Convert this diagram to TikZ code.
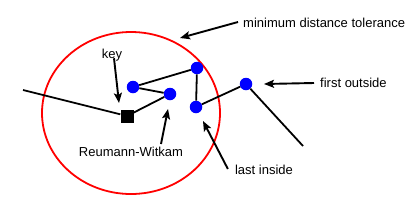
\documentclass[tikz,border=0pt]{standalone}
\usepackage{fontspec}
\setmainfont{Liberation Sans}
\usetikzlibrary{arrows.meta}
\begin{document}
\begin{tikzpicture}[x=1pt,y=-1pt,
    vertex/.style={circle,fill=blue,inner sep=0pt,minimum size=12.5pt},
    keybox/.style={rectangle,fill=black,inner sep=0pt,minimum size=13pt},
    lbl/.style={font=\fontsize{13}{15}\selectfont,inner sep=1pt},
    arr/.style={line width=1.9pt,-{Stealth[length=10pt,width=8pt,inset=2pt]}},
    pline/.style={line width=1.8pt}]
    \useasboundingbox (0,0) rectangle (411,207);
    \draw[red,line width=1.8pt] (131,113) ellipse (89 and 81);
    % polyline
    \coordinate (start) at (23,90);
    \coordinate (stop) at (303,146);
    \node[keybox] (key) at (127,116) {};
    \node[vertex] (a) at (133,87) {};
    \node[vertex] (b) at (170,94) {};
    \node[vertex] (c) at (197,68) {};
    \node[vertex] (d) at (196,107) {};
    \node[vertex] (e) at (246,84) {};
    \draw[pline] (start) -- (key) -- (b) -- (a) -- (c) -- (d) -- (e) -- (stop);
    % labels
    \node[lbl,anchor=west] (tol) at (242,23) {minimum distance tolerance};
    \node[lbl] (keylbl) at (112,55) {key};
    \node[lbl] (rw) at (131,152) {Reumann-Witkam};
    \node[lbl] (li) at (264,170) {last inside};
    \node[lbl,anchor=west] (fo) at (319,83) {first outside};
    \coordinate (tolhead) at (180,38);
    \coordinate (keyhead) at (119,103);
    \coordinate (rwhead) at (168,109);
    \coordinate (lihead) at (203,121);
    \coordinate (fohead) at (264,84);
    \draw[arr] ([xshift=-4pt,yshift=1pt]tol.west) -- (tolhead);
    \draw[arr] ([xshift=2pt,yshift=4pt]keylbl.south) -- (keyhead);
    \draw[arr] ([xshift=30pt,yshift=2pt]rw.north) -- (rwhead);
    \draw[arr] ([xshift=-6pt,yshift=-5pt]li.north west) -- (lihead);
    \draw[arr] ([xshift=-5pt]fo.west) -- (fohead);
\end{tikzpicture}
\end{document}
